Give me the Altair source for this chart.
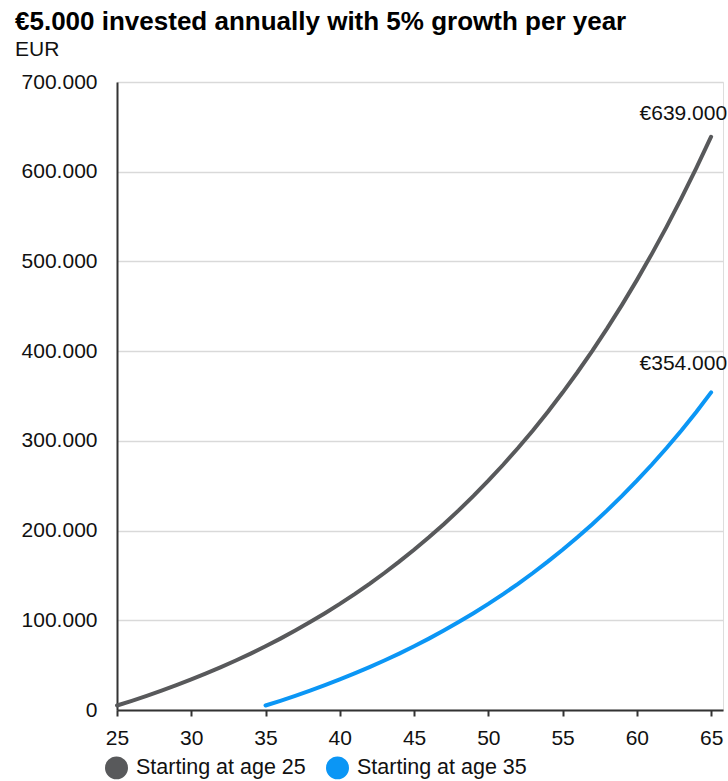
import altair as alt
import pandas as pd

# Portfolio value (EUR) at each age, 5.000 EUR paid in every year, 5% growth
ages_25 = list(range(25, 66))
values_25 = [
    5000, 10250, 15763, 21551, 27628, 34010, 40710, 47746, 55133, 62889,
    71034, 79586, 88565, 97993, 107893, 118287, 129202, 140662, 152695, 165330,
    178596, 192526, 207152, 222510, 238635, 255567, 273346, 292013, 311614, 332194,
    353804, 376494, 400319, 425335, 451602, 479182, 508141, 538548, 570475, 603999,
    639000,
]

ages_35 = list(range(35, 66))
values_35 = [
    5000, 10250, 15763, 21551, 27628, 34010, 40710, 47746, 55133, 62889,
    71034, 79586, 88565, 97993, 107893, 118287, 129202, 140662, 152695, 165330,
    178596, 192526, 207152, 222510, 238635, 255567, 273346, 292013, 311614, 332194,
    354000,
]

series_names = ["Starting at age 25", "Starting at age 35"]
series_colors = ["#58595b", "#0b96f5"]

x_ticks = [25, 30, 35, 40, 45, 50, 55, 60, 65]
y_ticks = [0, 100000, 200000, 300000, 400000, 500000, 600000, 700000]

end_labels = ["€639.000", "€354.000"]

rows = (
    [{"age": a, "value": v, "series": series_names[0]} for a, v in zip(ages_25, values_25)]
    + [{"age": a, "value": v, "series": series_names[1]} for a, v in zip(ages_35, values_35)]
)
df = pd.DataFrame(rows)

label_df = pd.DataFrame({
    "age": [ages_25[-1], ages_35[-1]],
    "value": [values_25[-1], values_35[-1]],
    "label": end_labels,
})

FONT = "Liberation Sans"

# German-style thousands separator for the value axis
y_label_expr = "replace(format(datum.value, ',.0f'), /,/g, '.')"

x_enc = alt.X(
    "age:Q",
    scale=alt.Scale(domain=[25, 65.8], nice=False, zero=False),
    axis=alt.Axis(
        values=x_ticks, title=None, grid=False, labelFontSize=21, labelFont=FONT,
        labelColor="#111111", domainColor="#333333", domainWidth=2,
        tickColor="#333333", tickWidth=2, tickSize=6, labelPadding=11,
        labelFlush=False,
    ),
)
y_enc = alt.Y(
    "value:Q",
    scale=alt.Scale(domain=[0, 700000], nice=False),
    axis=alt.Axis(
        values=y_ticks, title=None, labelExpr=y_label_expr, labelFontSize=21,
        labelFont=FONT, labelColor="#111111", domainColor="#333333", domainWidth=2,
        ticks=False, labelPadding=20, gridColor="#d9d9d9", gridWidth=1.5,
    ),
)

# Legend dots: a small circle with a thick outline reads as a solid disc
lines = alt.Chart(df).mark_line(strokeWidth=4, strokeCap="round").encode(
    x=x_enc,
    y=y_enc,
    color=alt.Color(
        "series:N",
        scale=alt.Scale(domain=series_names, range=series_colors),
        legend=alt.Legend(
            title=None, orient="none", legendX=-12, legendY=674, direction="horizontal",
            symbolType="circle", symbolSize=132, symbolStrokeWidth=11.5, symbolOpacity=1,
            labelFontSize=21.5, labelFont=FONT, labelColor="#111111", labelOffset=8,
            labelLimit=0, columnPadding=2, padding=0,
        ),
    ),
)

top_label = alt.Chart(label_df.iloc[[0]]).mark_text(
    align="right", baseline="alphabetic", dx=16, dy=-17, fontSize=21, font=FONT,
    color="#111111",
).encode(x="age:Q", y="value:Q", text="label:N")

low_label = alt.Chart(label_df.iloc[[1]]).mark_text(
    align="right", baseline="alphabetic", dx=16, dy=-22, fontSize=21, font=FONT,
    color="#111111",
).encode(x="age:Q", y="value:Q", text="label:N")

chart = alt.layer(lines, top_label, low_label).properties(
    width=606,
    height=628,
    autosize=alt.AutoSizeParams(type="none"),
    padding={"left": 117, "top": 82, "right": 5, "bottom": 71},
    title=alt.TitleParams(
        text="€5.000 invested annually with 5% growth per year",
        subtitle="EUR",
        anchor="start",
        frame="group",
        dx=-102,
        offset=11,
        font=FONT,
        fontSize=26,
        fontWeight="bold",
        color="#000000",
        subtitleFont=FONT,
        subtitleFontSize=21,
        subtitleColor="#111111",
        subtitlePadding=4,
    ),
).configure_view(stroke=None).configure(background="white")

chart.save("out.html", embed_options={"renderer": "svg", "actions": False})
